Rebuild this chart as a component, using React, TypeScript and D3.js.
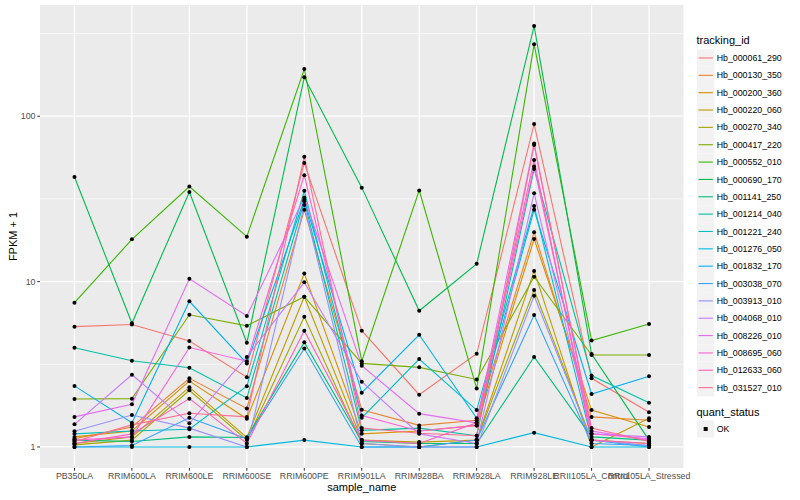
import * as d3 from "d3";

const WIDTH = 800;
const HEIGHT = 500;
const PANEL = { left: 40, top: 5, right: 683.5, bottom: 468 };

const samples = [
  "PB350LA", "RRIM600LA", "RRIM600LE", "RRIM600SE", "RRIM600PE", "RRIM901LA",
  "RRIM928BA", "RRIM928LA", "RRIM928LE", "RRII105LA_Control", "RRII105LA_Stressed",
];

const trackingIds = [
  "Hb_000061_290", "Hb_000130_350", "Hb_000200_360", "Hb_000220_060", "Hb_000270_340",
  "Hb_000417_220", "Hb_000552_010", "Hb_000690_170", "Hb_001141_250", "Hb_001214_040",
  "Hb_001221_240", "Hb_001276_050", "Hb_001832_170", "Hb_003038_070", "Hb_003913_010",
  "Hb_004068_010", "Hb_008226_010", "Hb_008695_060", "Hb_012633_060", "Hb_031527_010",
];

const colors = [
  "#F8766D", "#EA8331", "#D89000", "#C09B00", "#A3A500", "#7CAE00", "#39B600", "#00BB4E",
  "#00BF7D", "#00C1A3", "#00BFC4", "#00BAE0", "#00B0F6", "#35A2FF", "#9590FF", "#C77CFF",
  "#E76BF3", "#FA62DB", "#FF62BC", "#FF6C91",
];

// FPKM + 1, one array per gene, in sample order
const hb000061_290 = [5.34, 5.5, 4.37, 2.64, 52.1, 5.05, 2.07, 3.66, 89.6, 2.6, 1.62];
const hb000130_350 = [1.12, 1.32, 2.6, 1.71, 27.2, 1.68, 1.35, 1.45, 19.9, 1.52, 1.45];
const hb000200_360 = [1.15, 1.25, 2.5, 1.48, 11.2, 1.2, 1.25, 1.35, 18.1, 1.67, 1.32];
const hb000220_060 = [1.05, 1.15, 2.3, 1.14, 8.1, 1.1, 1.07, 1.1, 11.6, 1.0, 1.49];
const hb000270_340 = [1.03, 1.1, 2.2, 1.1, 6.13, 1.05, 1.0, 1.1, 8.9, 1.1, 1.05];
const hb000417_220 = [1.95, 1.96, 6.3, 5.4, 8.1, 3.2, 3.03, 2.56, 10.7, 3.6, 3.6];
const hb000552_010 = [7.46, 18, 37.6, 18.7, 193, 3.3, 35.6, 2.26, 272, 4.4, 5.54];
const hb000690_170 = [42.9, 5.6, 34.8, 4.27, 172, 37, 6.66, 12.8, 351, 3.65, 1.1];
const hb001141_250 = [1.1, 1.08, 1.15, 1.14, 4.29, 1.08, 1.05, 1.05, 3.5, 1.15, 1.1];
const hb001214_040 = [3.98, 3.32, 3.01, 1.98, 30.6, 1.26, 1.3, 1.17, 48, 2.7, 1.85];
const hb001221_240 = [1.2, 1.25, 1.28, 2.33, 35.4, 1.5, 3.4, 1.67, 28.6, 1.1, 1.0];
const hb001276_050 = [1.0, 1.0, 1.0, 1.0, 1.1, 1.0, 1.0, 1.0, 1.22, 1.0, 1.0];
const hb001832_170 = [2.34, 1.4, 7.6, 3.2, 31.3, 2.13, 4.77, 1.49, 27.2, 2.09, 2.68];
const hb003038_070 = [1.0, 1.02, 1.5, 1.12, 3.94, 1.0, 1.0, 1.1, 6.27, 1.05, 1.02];
const hb003913_010 = [1.245, 1.56, 1.3, 1.0, 29, 1.05, 1.0, 1.0, 8.2, 1.1, 1.02];
const hb004068_010 = [1.37, 2.73, 1.39, 3.5, 9.9, 2.48, 1.2, 1.05, 34.2, 1.2, 1.15];
const hb008226_010 = [1.52, 1.81, 10.4, 6.2, 32.3, 3.1, 1.59, 1.4, 68.4, 1.25, 1.1];
const hb008695_060 = [1.1, 1.15, 3.99, 3.3, 44, 1.55, 1.25, 1.35, 49.7, 1.2, 1.12];
const hb012633_060 = [1.05, 1.2, 1.96, 1.05, 5.05, 1.1, 1.05, 1.4, 54.4, 1.1, 1.05];
const hb031527_010 = [1.08, 1.36, 1.6, 1.52, 56.9, 1.3, 1.21, 1.17, 67, 1.3, 1.08];

const seriesValues = [
  hb000061_290, hb000130_350, hb000200_360, hb000220_060, hb000270_340,
  hb000417_220, hb000552_010, hb000690_170, hb001141_250, hb001214_040,
  hb001221_240, hb001276_050, hb001832_170, hb003038_070, hb003913_010,
  hb004068_010, hb008226_010, hb008695_060, hb012633_060, hb031527_010,
];

const yTicks = [1, 10, 100];
const yMinor = [Math.pow(10, 0.5), Math.pow(10, 1.5), Math.pow(10, 2.5)];

const FONT = "'Liberation Sans', Arial, Helvetica, sans-serif";

export default function App() {
  const xScale = d3
    .scalePoint<string>()
    .domain(samples)
    .range([PANEL.left, PANEL.right])
    .padding(0.6);

  // log scale with ggplot's 5% expansion in log space
  const all = seriesValues.flat();
  const lo = Math.log10(d3.min(all)!);
  const hi = Math.log10(d3.max(all)!);
  const pad = (hi - lo) * 0.05;
  const yScale = d3
    .scaleLog()
    .domain([Math.pow(10, lo - pad), Math.pow(10, hi + pad)])
    .range([PANEL.bottom, PANEL.top]);

  const line = d3
    .line<number>()
    .x((_, i) => xScale(samples[i])!)
    .y((d) => yScale(d));

  const legendTop = 49.3;
  const keySize = 17.35;

  return (
    <svg
      width={WIDTH}
      height={HEIGHT}
      style={{ position: "absolute", left: 0, top: 0, background: "white" }}
      fontFamily={FONT}
    >
      <rect
        x={PANEL.left}
        y={PANEL.top}
        width={PANEL.right - PANEL.left}
        height={PANEL.bottom - PANEL.top}
        fill="#EBEBEB"
      />
      {/* grid */}
      {yMinor.map((t) => (
        <line key={"mn" + t} x1={PANEL.left} x2={PANEL.right} y1={yScale(t)} y2={yScale(t)} stroke="white" strokeWidth={0.6} />
      ))}
      {yTicks.map((t) => (
        <line key={"mj" + t} x1={PANEL.left} x2={PANEL.right} y1={yScale(t)} y2={yScale(t)} stroke="white" strokeWidth={1.2} />
      ))}
      {samples.map((s) => (
        <line key={"gx" + s} x1={xScale(s)} x2={xScale(s)} y1={PANEL.top} y2={PANEL.bottom} stroke="white" strokeWidth={1.2} />
      ))}

      {/* lines */}
      {seriesValues.map((vals, i) => (
        <path key={"l" + i} d={line(vals)!} fill="none" stroke={colors[i]} strokeWidth={1.1} />
      ))}
      {/* points */}
      {seriesValues.map((vals, i) =>
        vals.map((v, j) => (
          <circle key={"p" + i + "-" + j} cx={xScale(samples[j])} cy={yScale(v)} r={2} fill="black" />
        ))
      )}

      {/* y axis */}
      {yTicks.map((t) => (
        <g key={"yt" + t}>
          <line x1={PANEL.left - 2.75} x2={PANEL.left} y1={yScale(t)} y2={yScale(t)} stroke="#333333" strokeWidth={1} />
          <text x={PANEL.left - 4.5} y={yScale(t)} dy="0.35em" textAnchor="end" fontSize={8.8} fill="#4D4D4D">
            {t}
          </text>
        </g>
      ))}
      <text
        transform={`translate(17,${(PANEL.top + PANEL.bottom) / 2}) rotate(-90)`}
        textAnchor="middle"
        fontSize={11}
        fill="black"
      >
        FPKM + 1
      </text>

      {/* x axis */}
      {samples.map((s) => (
        <g key={"xt" + s}>
          <line x1={xScale(s)} x2={xScale(s)} y1={PANEL.bottom} y2={PANEL.bottom + 2.75} stroke="#333333" strokeWidth={1} />
          <text x={xScale(s)} y={PANEL.bottom + 11.3} textAnchor="middle" fontSize={8.8} fill="#4D4D4D">
            {s}
          </text>
        </g>
      ))}
      <text x={(PANEL.left + PANEL.right) / 2} y={491} textAnchor="middle" fontSize={11} fill="black">
        sample_name
      </text>

      {/* legend: tracking_id */}
      <text x={696.5} y={43.5} fontSize={11} fill="black">
        tracking_id
      </text>
      {trackingIds.map((id, i) => {
        const y0 = legendTop + i * keySize;
        return (
          <g key={"lg" + id}>
            <rect x={697} y={y0} width={keySize} height={keySize} fill="#F2F2F2" />
            <line x1={698.5} x2={697 + keySize - 1.5} y1={y0 + keySize / 2} y2={y0 + keySize / 2} stroke={colors[i]} strokeWidth={1.1} />
            <text x={716.7} y={y0 + keySize / 2} dy="0.35em" fontSize={8.8} fill="black">
              {id}
            </text>
          </g>
        );
      })}

      {/* legend: quant_status */}
      <text x={696.5} y={415.5} fontSize={11} fill="black">
        quant_status
      </text>
      <rect x={697} y={420.3} width={keySize} height={keySize} fill="#F2F2F2" />
      <rect x={697 + keySize / 2 - 2} y={420.3 + keySize / 2 - 2} width={4} height={4} fill="black" />
      <text x={716.7} y={420.3 + keySize / 2} dy="0.35em" fontSize={8.8} fill="black">
        OK
      </text>
    </svg>
  );
}
